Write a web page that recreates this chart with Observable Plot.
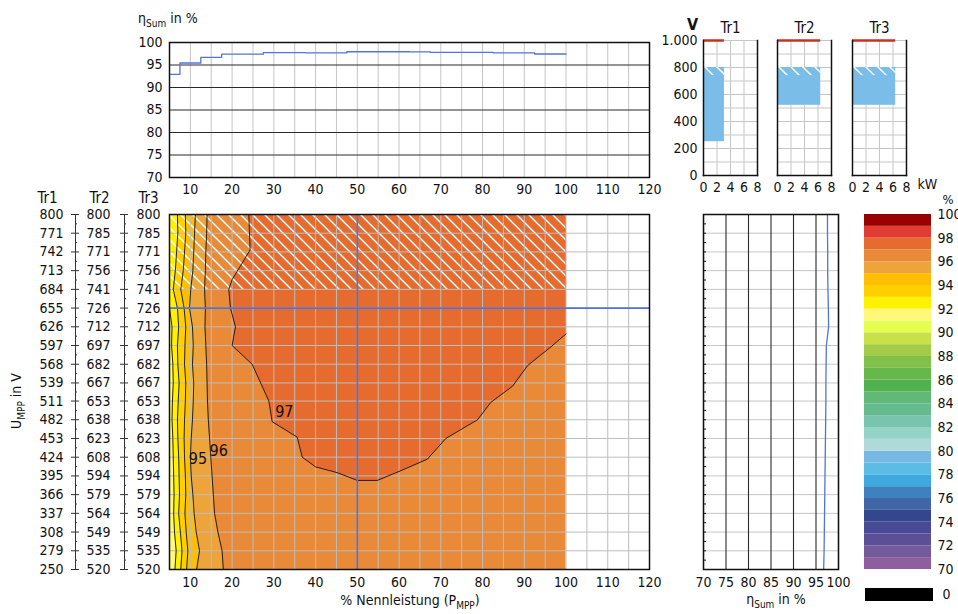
<!DOCTYPE html>
<html lang="de">
<head>
<meta charset="utf-8">
<script src="https://cdn.jsdelivr.net/npm/d3@7"></script>
<script src="https://cdn.jsdelivr.net/npm/@observablehq/plot@0.6"></script>
<style>
html, body { margin:0; padding:0; background:#fff; overflow:hidden; }
#root { position:relative; width:958px; height:614px; overflow:hidden; background:#fff;
  font-family:"Liberation Sans Narrow","DejaVu Sans Condensed","Noto Sans",sans-serif; color:#111; }
.lbl { position:absolute; font-size:14px; line-height:14px; white-space:nowrap; }
.lbl sub { font-size:10px; line-height:0; vertical-align:-4px; }
</style>
</head>
<body>
<svg width="0" height="0" style="position:absolute">
  <defs>
    <pattern id="hatch" patternUnits="userSpaceOnUse" width="12" height="12">
      <path d="M0,0L12,12M-2,10L2,14M10,-2L14,2" stroke="#ffffff" stroke-width="1.4" fill="none"/>
    </pattern>
  </defs>
</svg>
<div id="root">
  <div class="lbl" style="left:138px;top:11px">η<sub>Sum</sub> in %</div>
  <div class="lbl" style="left:410px;top:593px;transform:translateX(-50%)">% Nennleistung (P<sub>MPP</sub>)</div>
  <div class="lbl" style="left:776px;top:592px;transform:translateX(-50%)">η<sub>Sum</sub> in %</div>
  <div class="lbl" style="left:16px;top:401px;transform:translate(-50%,-50%) rotate(-90deg)">U<sub>MPP</sub> in V</div>
</div>
<script>
// ---------- data ----------
const pctTicks = [10, 20, 30, 40, 50, 60, 70, 80, 90, 100, 110, 120];
const pctGrid = [5, 10, 15, 20, 25, 30, 35, 40, 45, 50, 55, 60, 65, 70, 75, 80, 85, 90, 95, 100, 105, 110, 115, 120];
const etaTicks = [70, 75, 80, 85, 90, 95, 100];

const u_Tr1 = [800, 771, 742, 713, 684, 655, 626, 597, 568, 539, 511, 482, 453, 424, 395, 366, 337, 308, 279, 250];
const u_Tr2 = [800, 785, 771, 756, 741, 726, 712, 697, 682, 667, 653, 638, 623, 608, 594, 579, 564, 549, 535, 520];
const u_Tr3 = [800, 785, 771, 756, 741, 726, 712, 697, 682, 667, 653, 638, 623, 608, 594, 579, 564, 549, 535, 520];
const axisHeaders = ["Tr1", "Tr2", "Tr3"];

const pRange = [5, 100];          // measured power range in %
const uHatchTr1 = 684;            // hatched zone (upper voltages)

// iso-efficiency lines (x in % Nennleistung) per voltage row
const iso92 = [5.0, 5.0, 5.0, 5.0, 5.0, 5.0, 5.6, 5.5, 5.8, 5.9, 5.7, 5.6, 5.8, 5.9, 6.0, 6.1, 6.0, 6.2, 6.6, 6.3];
const iso93 = [6.9, 7.0, 6.7, 6.4, 5.9, 6.9, 7.2, 6.9, 7.0, 7.3, 7.1, 6.9, 7.0, 7.2, 7.3, 7.4, 7.2, 7.6, 8.0, 7.7];
const iso94 = [8.8, 8.9, 8.6, 8.3, 7.7, 8.5, 8.9, 8.7, 8.6, 8.9, 8.8, 8.6, 8.5, 8.6, 8.8, 8.9, 8.7, 9.0, 9.4, 9.1];
const iso95 = [11.2, 11.0, 10.8, 10.6, 10.1, 9.8, 10.5, 10.7, 10.5, 10.8, 10.7, 10.5, 10.2, 10.0, 10.2, 10.6, 10.9, 11.4, 12.2, 11.5];
const iso96 = [14.0, 13.9, 13.7, 13.6, 13.4, 13.6, 13.5, 13.7, 13.9, 14.0, 14.1, 14.3, 14.6, 14.9, 15.2, 15.5, 15.8, 16.6, 17.6, 17.9];
// 97 % iso line (U-shaped), vertices in (% , U Tr1)
const iso97P = [24.0, 24.3, 20.0, 19.2, 19.6, 20.8, 20.0, 24.8, 28.8, 29.6, 35.6, 36.8, 40.0, 45.2, 50.0, 54.8, 60.4, 66.8, 71.2, 78.8, 82.0, 87.2, 90.8, 96.4, 100];
const iso97U = [800, 745, 699, 684, 655, 626, 597, 568, 511, 479, 455, 424, 409, 400, 388, 388, 403, 421, 453, 482, 509, 534, 566, 595, 615];

const isoLabelText = ["95", "96", "97"];
const isoLabelP = [11.8, 16.8, 32.5];
const isoLabelU = [421, 434, 494];

const selP = [50];    // selected power (vertical blue line)
const selU = [655];   // selected voltage (horizontal blue line)

// efficiency along the selected voltage row
const etaRowP = [5, 10, 15, 20, 25, 30, 35, 40, 45, 50, 55, 60, 65, 70, 75, 80, 85, 90, 95, 100];
const etaRow = [92.9, 95.45, 96.7, 97.4, 97.4, 97.75, 97.75, 97.7, 97.7, 97.95, 97.95, 97.95, 97.9, 97.8, 97.8, 97.8, 97.7, 97.7, 97.45, 97.45];
// efficiency along the selected power column (per voltage row)
const etaCol = [97.55, 97.55, 97.6, 97.6, 97.65, 97.75, 97.8, 97.3, 97.25, 97.2, 97.2, 97.15, 97.1, 97.05, 97.0, 96.95, 96.9, 96.85, 96.8, 96.7];

// colour legend
const legendLevels = [70, 71, 72, 73, 74, 75, 76, 77, 78, 79, 80, 81, 82, 83, 84, 85, 86, 87, 88, 89, 90, 91, 92, 93, 94, 95, 96, 97, 98, 99];
const legendColors = ["#8f5e9e", "#735a9a", "#5d4f97", "#484a95", "#34478e", "#4066a7", "#3f80bf", "#3da9df", "#5bbde6", "#78b8e4",
  "#b0dad9", "#94d4c6", "#78c4ae", "#66bb8e", "#62b876", "#4fb24f", "#66b84b", "#80c04b", "#a3cc48", "#c8e04a",
  "#e5ff50", "#fff87a", "#fff200", "#ffd000", "#ffbf00", "#eda43a", "#e88a38", "#e56c2e", "#e03c31", "#990000"];
const legendTicks = [70, 72, 74, 76, 78, 80, 82, 84, 86, 88, 90, 92, 94, 96, 98, 100];
const zeroLabel = ["0"];

// input operating windows per tracker
const trNames = ["Tr1", "Tr2", "Tr3"];
const trPmax = [3.1, 6.4, 6.4];
const trUmin = [250, 520, 520];
const trUmax = [800, 800, 800];
const trUhatch = [740, 740, 740];
const trUlimit = [1000, 1000, 1000];
const kwTicks = [0, 2, 4, 6, 8];
const kwGrid = [2, 4, 6];
const vGrid = [100, 200, 300, 400, 500, 600, 700, 800, 900, 1000];
const vTicks = [0, 200, 400, 600, 800, 1000];

// ---------- helpers ----------
const FONT = '"Liberation Sans Narrow","DejaVu Sans Condensed","Noto Sans",sans-serif';
const style = {fontFamily: FONT, fontSize: "14px", color: "#111", background: "transparent", overflow: "visible"};
const BLUE = "#5274d8";
const GRID = "#bdbdbd";
const colorOf = (lvl) => legendColors[legendLevels.indexOf(lvl)];
const de = d3.formatLocale({decimal: ",", thousands: ".", grouping: [3], currency: ["", " €"]}).format(",");
const noText = () => "";
const root = document.getElementById("root");
function place(el, left, top) {
  el.style.position = "absolute";
  el.style.left = left + "px";
  el.style.top = top + "px";
  root.appendChild(el);
}

// ---------- top: efficiency vs power ----------
const rowLine = etaRowP.map((p, i) => ({p, eta: etaRow[i]}));
place(Plot.plot({
  width: 660, height: 200,
  marginLeft: 169, marginRight: 11, marginTop: 42, marginBottom: 23,
  x: {domain: [5, 120], label: null},
  y: {domain: [70, 100], label: null},
  style,
  marks: [
    Plot.ruleX(pctGrid, {stroke: "#c6c6c6", strokeWidth: 1}),
    Plot.ruleY(etaTicks, {stroke: "#2a2a2a", strokeWidth: 1.1}),
    Plot.line(rowLine, {x: "p", y: "eta", curve: "step", stroke: BLUE, strokeWidth: 1.3}),
    Plot.frame({stroke: "#111", strokeWidth: 1.5}),
    Plot.axisX(pctTicks, {tickSize: 0, tickPadding: 7, label: null}),
    Plot.axisY(etaTicks, {tickSize: 0, tickPadding: 7, label: null})
  ]
}), 0, 0);

// ---------- main: efficiency map ----------
const rows = u_Tr1.map((u, i) => ({u, iso92: iso92[i], iso93: iso93[i], iso94: iso94[i], iso95: iso95[i], iso96: iso96[i]}));
const iso97 = iso97P.map((p, i) => ({p, u: iso97U[i]}));
const region97 = [{p: pRange[1], u: u_Tr1[0]}, ...iso97];
const dataRegion = [{p1: pRange[0], p2: pRange[1], u1: u_Tr1[u_Tr1.length - 1], u2: u_Tr1[0]}];
const hatchRegion = [{p1: pRange[0], p2: pRange[1], u1: uHatchTr1, u2: u_Tr1[0]}];
const isoLabels = isoLabelText.map((t, i) => ({t, p: isoLabelP[i], u: isoLabelU[i]}));
const halfRows = d3.pairs(u_Tr1).map(([a, b]) => (a + b) / 2);
const bandsLeft = [["iso96", 95], ["iso95", 94], ["iso94", 93], ["iso93", 92], ["iso92", 91]];
const headerDx = [-122, -70, -21];

place(Plot.plot({
  width: 660, height: 424,
  marginLeft: 169, marginRight: 11, marginTop: 24, marginBottom: 45,
  x: {domain: [5, 120], label: null},
  y: {domain: [250, 800], label: null},
  style,
  marks: [
    Plot.rect(dataRegion, {x1: "p1", x2: "p2", y1: "u1", y2: "u2", fill: colorOf(96)}),
    Plot.line(region97, {x: "p", y: "u", fill: colorOf(97), stroke: "none"}),
    ...bandsLeft.map(([k, lvl]) => Plot.areaX(rows, {y: "u", x1: () => pRange[0], x2: k, fill: colorOf(lvl)})),
    Plot.rect(hatchRegion, {x1: "p1", x2: "p2", y1: "u1", y2: "u2", fill: "url(#hatch)"}),
    Plot.ruleX(pctGrid, {stroke: GRID, strokeWidth: 1}),
    Plot.ruleY(u_Tr1, {stroke: GRID, strokeWidth: 1}),
    ...["iso92", "iso93", "iso94", "iso95", "iso96"].map(k => Plot.line(rows, {x: k, y: "u", stroke: "#111", strokeWidth: 0.9})),
    Plot.line(iso97, {x: "p", y: "u", stroke: "#111", strokeWidth: 0.9}),
    Plot.ruleX(selP, {stroke: BLUE, strokeWidth: 1.6}),
    Plot.ruleY(selU, {stroke: BLUE, strokeWidth: 1.6}),
    Plot.text(isoLabels, {x: "p", y: "u", text: "t", fontSize: 16, fill: "#111"}),
    Plot.frame({stroke: "#111", strokeWidth: 1.5}),
    Plot.axisX(pctTicks, {tickSize: 0, tickPadding: 8, label: null}),
    Plot.axisY(u_Tr1, {tickSize: 0, tickPadding: 9, label: null, tickFormat: d => u_Tr3[u_Tr1.indexOf(d)]}),
    Plot.axisY(u_Tr1, {tickSize: 0, tickPadding: 9, dx: -50, label: null, tickFormat: d => u_Tr2[u_Tr1.indexOf(d)]}),
    Plot.axisY(u_Tr1, {tickSize: 0, tickPadding: 9, dx: -97, label: null, tickFormat: d => String(d)}),
    Plot.axisY(u_Tr1, {tickSize: 8, dx: -41, fill: "none", tickFormat: noText, label: null, stroke: "#333"}),
    Plot.axisY(u_Tr1, {tickSize: 8, dx: -90, fill: "none", tickFormat: noText, label: null, stroke: "#333"}),
    Plot.axisY(halfRows, {tickSize: 2, dx: -43, fill: "none", tickFormat: noText, label: null, stroke: "#333"}),
    Plot.axisY(halfRows, {tickSize: 2, dx: -92, fill: "none", tickFormat: noText, label: null, stroke: "#333"}),
    Plot.frame({anchor: "left", dx: -45, stroke: "#333"}),
    Plot.frame({anchor: "left", dx: -94, stroke: "#333"}),
    ...axisHeaders.map((h, i) => Plot.text([h], {text: d => d, frameAnchor: "top-left", textAnchor: "middle", dx: headerDx[i], dy: -22, fontSize: 15}))
  ]
}), 0, 190);

// ---------- right: efficiency vs voltage ----------
const colLine = u_Tr1.map((u, i) => ({u, eta: etaCol[i]}));
const quarterTicks = [...u_Tr1, ...halfRows];
place(Plot.plot({
  width: 200, height: 424,
  marginLeft: 43, marginRight: 22, marginTop: 24, marginBottom: 45,
  x: {domain: [70, 100], label: null},
  y: {domain: [250, 800], label: null},
  style,
  marks: [
    Plot.ruleY(u_Tr1, {stroke: "#c6c6c6", strokeWidth: 1}),
    Plot.ruleX(etaTicks, {stroke: "#2a2a2a", strokeWidth: 1.1}),
    Plot.line(colLine, {x: "eta", y: "u", stroke: BLUE, strokeWidth: 1.3}),
    Plot.frame({stroke: "#111", strokeWidth: 1.5}),
    Plot.axisY(quarterTicks, {tickSize: 3, dx: 3, fill: "none", tickFormat: noText, label: null, stroke: "#111"}),
    Plot.axisX(etaTicks, {tickSize: 0, tickPadding: 8, label: null})
  ]
}), 660, 190);

// ---------- top right: operating windows ----------
const panelLeft = [703, 777, 852];
trNames.forEach((name, i) => {
  const tr = [{name, p0: 0, pmax: trPmax[i], umin: trUmin[i], umax: trUmax[i], uh: trUhatch[i], ulim: trUlimit[i]}];
  const marks = [
    Plot.ruleX(kwGrid, {stroke: "#c6c6c6", strokeWidth: 1}),
    Plot.ruleY(vGrid, {stroke: "#c6c6c6", strokeWidth: 1}),
    Plot.rect(tr, {x1: "p0", x2: "pmax", y1: "umin", y2: "umax", fill: "#79bde8"}),
    Plot.rect(tr, {x1: "p0", x2: "pmax", y1: "uh", y2: "umax", fill: "url(#hatch)"}),
    Plot.ruleY(tr, {y: "ulim", x1: "p0", x2: "pmax", stroke: "#c8321e", strokeWidth: 2.5}),
    Plot.frame({anchor: "left", stroke: "#111", strokeWidth: 1.5}),
    Plot.frame({anchor: "right", stroke: "#111", strokeWidth: 1.5}),
    Plot.frame({anchor: "bottom", stroke: "#111", strokeWidth: 1.5}),
    Plot.axisX(kwTicks, {tickSize: 0, tickPadding: 7, label: null}),
    Plot.text(tr, {text: "name", frameAnchor: "top", dy: -18, fontSize: 15})
  ];
  if (i === 0) {
    marks.push(Plot.axisY(vTicks, {tickSize: 0, tickPadding: 6, label: null, tickFormat: d => de(d)}));
    marks.push(Plot.text(["V"], {text: d => d, frameAnchor: "top-left", textAnchor: "middle", dx: -11, dy: -22, fontSize: 16, fontWeight: "bold"}));
  }
  if (i === trNames.length - 1) {
    marks.push(Plot.text(["kW"], {text: d => d, frameAnchor: "bottom-right", dx: 11, dy: 13, textAnchor: "start"}));
  }
  place(Plot.plot({
    width: 137, height: 200,
    marginLeft: 53, marginRight: 30, marginTop: 40, marginBottom: 25,
    x: {domain: [0, 8], label: null},
    y: {domain: [0, 1000], label: null, axis: i === 0 ? undefined : null},
    style,
    marks
  }), panelLeft[i] - 53, 0);
});

// ---------- legend ----------
const bands = legendLevels.map((lo, i) => ({lo, hi: lo + 1, c: legendColors[i]}));
place(Plot.plot({
  width: 140, height: 424,
  marginLeft: 14, marginRight: 59, marginTop: 24, marginBottom: 45,
  y: {domain: [70, 100], label: null},
  color: {type: "identity"},
  style,
  marks: [
    Plot.rect(bands, {y1: "lo", y2: "hi", fill: "c"}),
    Plot.axisY(legendTicks, {anchor: "right", tickSize: 0, tickPadding: 6, label: null}),
    Plot.text(["%"], {text: d => d, frameAnchor: "top-right", textAnchor: "start", dx: 11, dy: -20, fontSize: 13})
  ]
}), 850, 190);

place(Plot.plot({
  width: 140, height: 36,
  marginLeft: 15, marginRight: 58, marginTop: 10, marginBottom: 14,
  style,
  marks: [
    Plot.frame({fill: "#000", stroke: "#000"}),
    Plot.text(zeroLabel, {text: d => d, frameAnchor: "right", dx: 10, textAnchor: "start"})
  ]
}), 850, 578);
</script>
</body>
</html>
